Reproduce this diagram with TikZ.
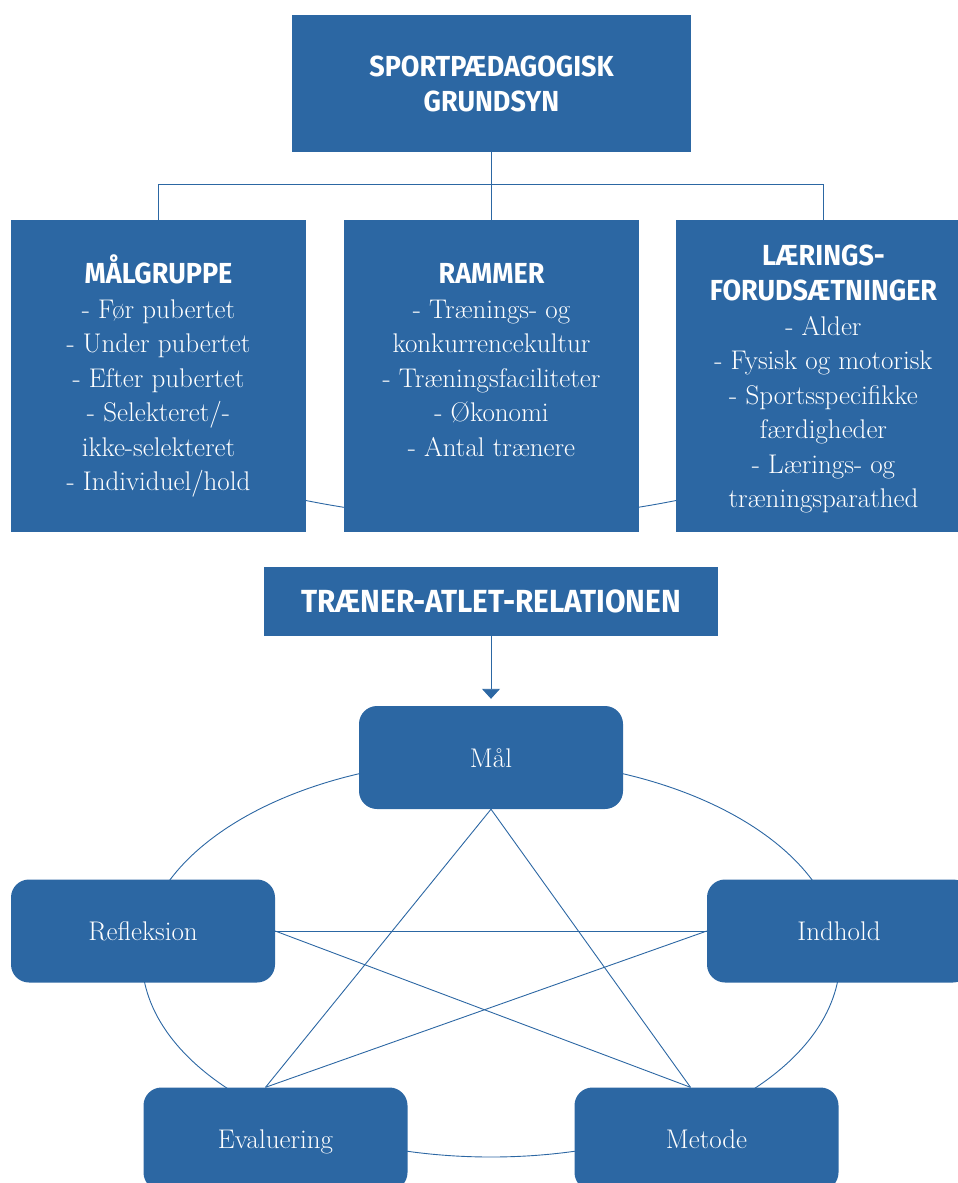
\documentclass[tikz,border=0pt]{standalone}
\usepackage{fontspec}
\usetikzlibrary{arrows.meta}
\newfontfamily\headfont{Fira Sans}[FakeStretch=0.93]
\definecolor{sblue}{RGB}{44,103,163}
\begin{document}
\begin{tikzpicture}[x=1pt,y=-1pt,
  box/.style={fill=sblue, draw=none, inner sep=0pt, text=white},
  bigbox/.style={box, minimum width=295pt, minimum height=312pt},
  rbox/.style={box, rounded corners=18pt, minimum width=264pt, minimum height=103pt, text height=25pt, text depth=6pt, font=\fontsize{27}{32}\selectfont},
  conn/.style={draw=sblue, line width=0.9pt},
  headtxt/.style={text=white, font=\headfont\bfseries\fontsize{29}{34.5}\selectfont, align=center, inner sep=0pt},
  bodytxt/.style={text=white, font=\fontsize{27}{34.5}\selectfont, align=center, inner sep=0pt}]
\path[use as bounding box] (0,0) rectangle (958,1183);
\clip (0,0) rectangle (958,1183);

% coordinates of background curves
\coordinate (ellc) at (491,958);
\coordinate (arcL) at (158.5,459.3);
\coordinate (arcR) at (823.5,459.3);

% background arc behind the three boxes
\draw[conn] (arcL) .. controls (380.2,538.9) and (601.8,538.9) .. (arcR);
% ellipse of the cycle
\draw[conn] (ellc) ellipse [x radius=349pt, y radius=199pt];

% top part
\node[box, minimum width=399pt, minimum height=137pt, font=\headfont\bfseries\fontsize{29}{35}\selectfont, align=center] (top) at (491.5,83.5) {SPORTPÆDAGOGISK\\GRUNDSYN};

\node[bigbox] (mal) at (158.5,376) {};
\node[bigbox] (ram) at (491.5,376) {};
\node[bigbox] (lae) at (823.5,376) {};

\draw[conn] (top.south) -- (ram.north);
\draw[conn] (mal.north) -- ++(0,-35) -| (lae.north);

% base anchor = baseline of the last line
\node[headtxt, anchor=base] (malh) at (158.5,283) {MÅLGRUPPE};
\node[bodytxt, anchor=base] (malb) at (158.5,490.5) {- Før pubertet\\- Under pubertet\\- Efter pubertet\\- Selekteret/-\\ikke-selekteret\\- Individuel/hold};

\node[headtxt, anchor=base] (ramh) at (491.5,283) {RAMMER};
\node[bodytxt, anchor=base] (ramb) at (491.5,456) {- Trænings- og\\konkurrencekultur\\- Træningsfaciliteter\\- Økonomi\\- Antal trænere};

\node[headtxt, anchor=base] (laeh) at (823.5,300.2) {LÆRINGS-\\FORUDSÆTNINGER};
\node[bodytxt, anchor=base] (laeb) at (823.5,507.5) {- Alder\\- Fysisk og motorisk\\- Sportsspecifikke\\færdigheder\\- Lærings- og\\træningsparathed};

% relation box
\node[box, minimum width=454pt, minimum height=69pt, font=\headfont\bfseries\fontsize{32}{38}\selectfont] (tra) at (491,601.5) {TRÆNER-ATLET-RELATIONEN};

% cycle nodes
\node[rbox] (maal) at (491,757.5) {Mål};
\node[rbox] (ref) at (143,931) {Refleksion};
\node[rbox] (ind) at (839,931) {Indhold};
\node[rbox] (eva) at (275.5,1139) {Evaluering};
\node[rbox] (met) at (706.5,1139) {Metode};

\draw[conn, -{Triangle[width=18pt,length=10pt]}, shorten >=7pt] (tra.south) -- (maal.north);

% star lines
\draw[conn] (maal.south) -- ([xshift=-10pt]eva.north);
\draw[conn] (maal.south) -- ([xshift=-16pt]met.north);
\draw[conn] (ref.east) -- (ind.west);
\draw[conn] (ref.east) -- ([xshift=-16pt]met.north);
\draw[conn] (ind.west) -- ([xshift=-10pt]eva.north);
\end{tikzpicture}
\end{document}
